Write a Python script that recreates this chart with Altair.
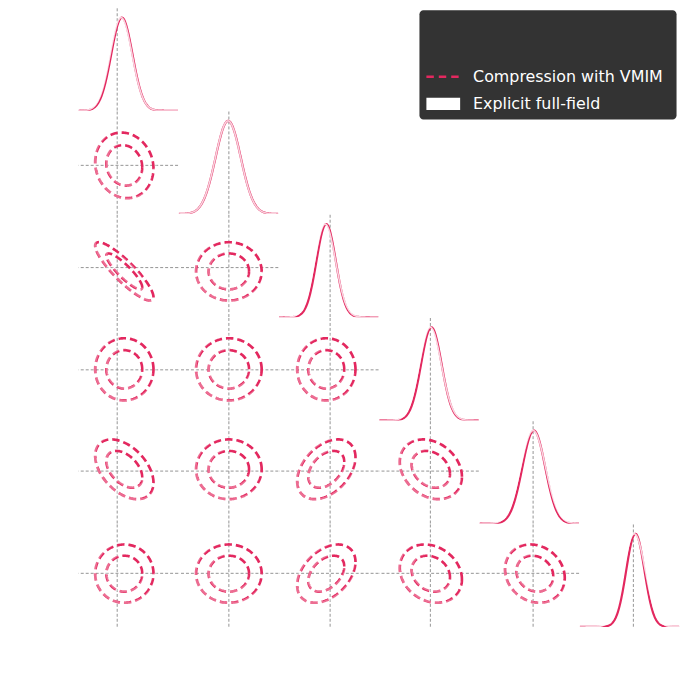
import numpy as np
import pandas as pd
import altair as alt

# ---------------- values ----------------
chain_labels = ["Compression with VMIM", "Explicit full-field"]
chain_colors = ["#e3285f", "#ffffff"]

truth = [0.0, 0.0, 0.0, 0.0, 0.0, 0.0]
# lower edge of each parameter's axis (panel extent) as column (x) and as row (y)
x_lo = [-3.9, -5.05, -5.15, -5.15, -5.4, -5.4]
y_lo = [-5.0, -4.9, -5.0, -5.1, -5.3, -5.4]

contour_levels = [0.68, 0.95]

# Compression with VMIM
vmim_mean_1d = [0.47, -0.07, -0.40, 0.10, 0.07, 0.20]
vmim_sigma_1d = [1.07, 1.27, 0.97, 1.03, 1.15, 0.92]
vmim_mean_2d = [0.72, 0.00, -0.38, 0.05, 0.18, -0.03]
vmim_sigma_2d = [1.20, 1.35, 1.20, 1.28, 1.23, 1.20]
vmim_rho = [
    [],
    [-0.10],
    [-0.88, 0.00],
    [0.00, 0.00, 0.00],
    [-0.45, 0.00, 0.40, -0.25],
    [0.00, 0.00, 0.40, -0.20, -0.15],
]

# Explicit full-field (white)
ff_mean_1d = [0.40, -0.08, -0.50, 0.00, 0.00, 0.10]
ff_sigma_1d = [1.10, 1.27, 1.05, 1.10, 1.25, 1.10]
ff_mean_2d = [0.84, 0.12, -0.26, 0.17, 0.30, 0.09]
ff_sigma_2d = [1.26, 1.42, 1.26, 1.34, 1.29, 1.26]
ff_rho = [
    [],
    [-0.10],
    [-0.86, 0.00],
    [0.00, 0.00, 0.00],
    [-0.42, 0.00, 0.40, -0.22],
    [0.00, 0.00, 0.40, -0.20, -0.12],
]

# ---------------- layout / style ----------------
W, H = 100.3, 103.2
NP = len(truth)
GREY = "#888888"
ONE = pd.DataFrame({"a": [0]})


def xscale(j):
    return alt.Scale(domain=[x_lo[j], x_lo[j] + W / 10], nice=False, zero=False)


def yscale(i):
    return alt.Scale(domain=[y_lo[i], y_lo[i] + H / 10], nice=False, zero=False)


def ellipses(mx, my, sx, sy, rho):
    t = np.linspace(0, 2 * np.pi, 181)
    parts = []
    for li, p in enumerate(contour_levels):
        r = np.sqrt(-2 * np.log(1 - p))
        xs = mx + r * sx * np.cos(t)
        ys = my + r * sy * (rho * np.cos(t) + np.sqrt(1 - rho ** 2) * np.sin(t))
        parts.append(pd.DataFrame({"x": xs, "y": ys, "lev": li, "k": np.arange(len(t))}))
    return pd.concat(parts, ignore_index=True)


def truth_v(j, xs):
    return alt.Chart(pd.DataFrame({"v": [truth[j]]})).mark_rule(
        color=GREY, strokeWidth=0.9, strokeDash=[3, 2]
    ).encode(x=alt.X("v:Q", scale=xs, axis=None))


def truth_h(i, ys):
    return alt.Chart(pd.DataFrame({"v": [truth[i]]})).mark_rule(
        color=GREY, strokeWidth=0.9, strokeDash=[3, 2]
    ).encode(y=alt.Y("v:Q", scale=ys, axis=None))


def contour_panel(i, j):
    xs, ys = xscale(j), yscale(i)
    vm = ellipses(vmim_mean_2d[j], vmim_mean_2d[i], vmim_sigma_2d[j], vmim_sigma_2d[i], vmim_rho[i][j])
    ff = ellipses(ff_mean_2d[j], ff_mean_2d[i], ff_sigma_2d[j], ff_sigma_2d[i], ff_rho[i][j])
    enc = dict(
        x=alt.X("x:Q", scale=xs, axis=None),
        y=alt.Y("y:Q", scale=ys, axis=None),
        detail="lev:N",
        order="k:Q",
    )
    l_vm = alt.Chart(vm).mark_line(
        color=chain_colors[0], strokeWidth=2.7, strokeDash=[7.5, 4], clip=True
    ).encode(**enc)
    l_ff = alt.Chart(ff).mark_line(
        color=chain_colors[1], strokeWidth=2.4, opacity=0.32, clip=True
    ).encode(**enc)
    return alt.layer(truth_v(j, xs), truth_h(i, ys), l_vm, l_ff).properties(width=W, height=H)


def diag_panel(j):
    xs = xscale(j)
    ys = alt.Scale(domain=[0, 1.1], nice=False, zero=False)
    x = np.linspace(x_lo[j], x_lo[j] + W / 10, 301)
    df = pd.DataFrame({
        "x": x,
        "vm": np.exp(-0.5 * ((x - vmim_mean_1d[j]) / vmim_sigma_1d[j]) ** 2),
        "ff": np.exp(-0.5 * ((x - ff_mean_1d[j]) / ff_sigma_1d[j]) ** 2),
    })
    base = alt.Chart(df)
    l_vm = base.mark_line(color=chain_colors[0], strokeWidth=2.2, clip=True).encode(
        x=alt.X("x:Q", scale=xs, axis=None), y=alt.Y("vm:Q", scale=ys, axis=None)
    )
    l_ff = base.mark_line(color=chain_colors[1], strokeWidth=1.6, opacity=0.8, clip=True).encode(
        x=alt.X("x:Q", scale=xs, axis=None), y=alt.Y("ff:Q", scale=ys, axis=None)
    )
    return alt.layer(truth_v(j, xs), l_vm, l_ff).properties(width=W, height=H)


def empty_panel():
    return alt.Chart(ONE).mark_point(opacity=0, size=0).encode(
        x=alt.value(W / 2), y=alt.value(H / 2)
    ).properties(width=W, height=H)


def legend_panel():
    # drawn in grid cell (row 0, col 1); box right edge aligned with the grid's right edge
    right = W * (NP - 1)
    x0 = right - 259
    box = alt.Chart(ONE).mark_rect(color="#333333", cornerRadius=4).encode(
        x=alt.value(x0), x2=alt.value(right), y=alt.value(2), y2=alt.value(112)
    )
    dash = alt.Chart(ONE).mark_rule(
        color=chain_colors[0], strokeWidth=2.6, strokeDash=[7.5, 5]
    ).encode(x=alt.value(x0 + 7), x2=alt.value(x0 + 41), y=alt.value(69))
    patch = alt.Chart(ONE).mark_rect(color=chain_colors[1]).encode(
        x=alt.value(x0 + 7), x2=alt.value(x0 + 41), y=alt.value(90), y2=alt.value(102.5)
    )
    texts = []
    for k, yy in zip(range(len(chain_labels)), [69, 96]):
        texts.append(
            alt.Chart(pd.DataFrame({"label": [chain_labels[k]]})).mark_text(
                align="left", baseline="middle", fontSize=16, font="DejaVu Sans", color="white"
            ).encode(x=alt.value(x0 + 54), y=alt.value(yy), text="label:N")
        )
    return alt.layer(box, dash, patch, *texts).properties(width=W, height=H)


cells = []
for i in range(NP):
    for j in range(NP):
        if j < i:
            cells.append(contour_panel(i, j))
        elif j == i:
            cells.append(diag_panel(i))
        elif i == 0 and j == 1:
            cells.append(legend_panel())
        else:
            cells.append(empty_panel())

chart = (
    alt.concat(*cells, columns=NP, spacing=0, bounds="flush")
    .resolve_scale(x="independent", y="independent")
    .properties(padding={"left": 70, "top": -3, "right": 2, "bottom": 2})
    .configure_view(stroke=None)
)

chart.save("out.html", embed_options={"renderer": "svg", "actions": False})
